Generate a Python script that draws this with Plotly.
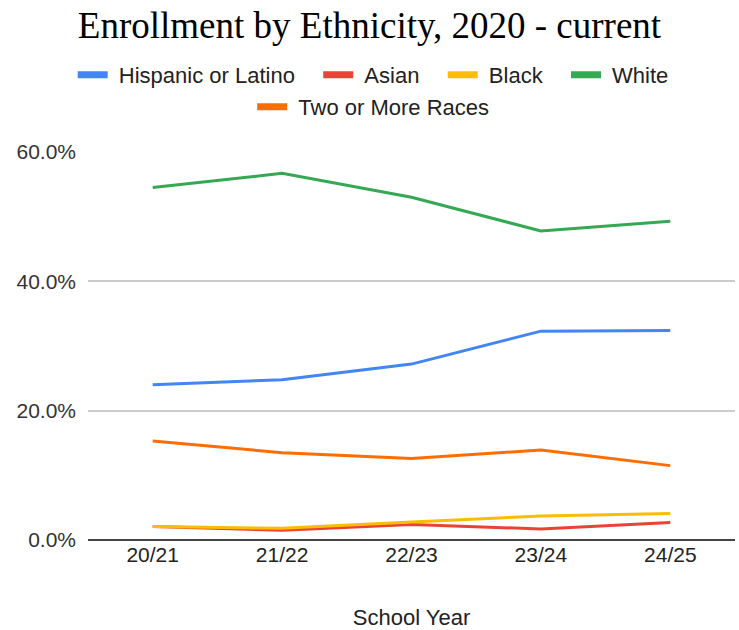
import plotly.graph_objects as go

years = ["20/21", "21/22", "22/23", "23/24", "24/25"]
hispanic = [24.0, 24.8, 27.2, 32.3, 32.4]
asian = [2.1, 1.5, 2.4, 1.7, 2.7]
black = [2.1, 1.8, 2.8, 3.7, 4.1]
white = [54.5, 56.7, 53.0, 47.8, 49.3]
two_or_more = [15.3, 13.5, 12.6, 13.9, 11.5]
y_ticks = [0, 20, 40, 60]
y_tick_labels = ["0.0%", "20.0%", "40.0%", "60.0%"]

series = [
    ("Hispanic or Latino", hispanic, "#4285F4", "legend"),
    ("Asian", asian, "#EA4335", "legend"),
    ("Black", black, "#FBBC04", "legend"),
    ("White", white, "#34A853", "legend"),
    ("Two or More Races", two_or_more, "#FF6D01", "legend2"),
]

NB = "\u00a0"
fig = go.Figure()
for name, vals, color, lg in series:
    fig.add_trace(go.Scatter(x=years, y=vals, mode="lines", name=name,
                             line=dict(color=color, width=3), showlegend=False,
                             hoverinfo="x+y+name"))
for name, vals, color, lg in series:
    fig.add_trace(go.Scatter(x=[None], y=[None], mode="lines",
                             name=NB + name + (NB * 3 if lg == "legend" and name != "White" else ""),
                             line=dict(color=color, width=7), legend=lg))

font_sans = "Liberation Sans, Arial, sans-serif"
fig.update_layout(
    width=739, height=630,
    paper_bgcolor="white", plot_bgcolor="white",
    margin=dict(l=88, r=4, t=152, b=90),
    title=dict(text="Enrollment by Ethnicity, 2020 - current",
               font=dict(family="Liberation Serif, Times New Roman, serif", size=37, color="#000000"),
               x=0.5, xanchor="center", y=1 - 25/630, yanchor="middle", yref="container"),
    legend=dict(orientation="h", x=0.505, xanchor="center", xref="container",
                y=1 - 75/630, yanchor="middle",
                yref="container", font=dict(family=font_sans, size=22, color="#222222"),
                itemwidth=30, bgcolor="rgba(0,0,0,0)"),
    legend2=dict(orientation="h", x=0.505, xanchor="center", xref="container",
                 y=1 - 107/630, yanchor="middle",
                 yref="container", font=dict(family=font_sans, size=22, color="#222222"),
                 itemwidth=30, bgcolor="rgba(0,0,0,0)"),
    xaxis=dict(type="category", range=[-0.5, 4.5], showgrid=False, zeroline=False, showline=False,
               ticks="", tickfont=dict(family=font_sans, size=21, color="#222222"),
               title=dict(text="School Year", font=dict(family=font_sans, size=22, color="#222222"),
                          standoff=46),
               automargin=False),
    yaxis=dict(range=[0, 60], tickvals=y_ticks, ticktext=y_tick_labels,
               showgrid=True, gridcolor="#cccccc", gridwidth=1.5,
               zeroline=True, zerolinecolor="#444444", zerolinewidth=2,
               showline=False, ticks="", ticklabelstandoff=11,
               tickfont=dict(family=font_sans, size=21, color="#333333"),
               automargin=False),
    showlegend=True,
)

fig.write_html("out.html")
